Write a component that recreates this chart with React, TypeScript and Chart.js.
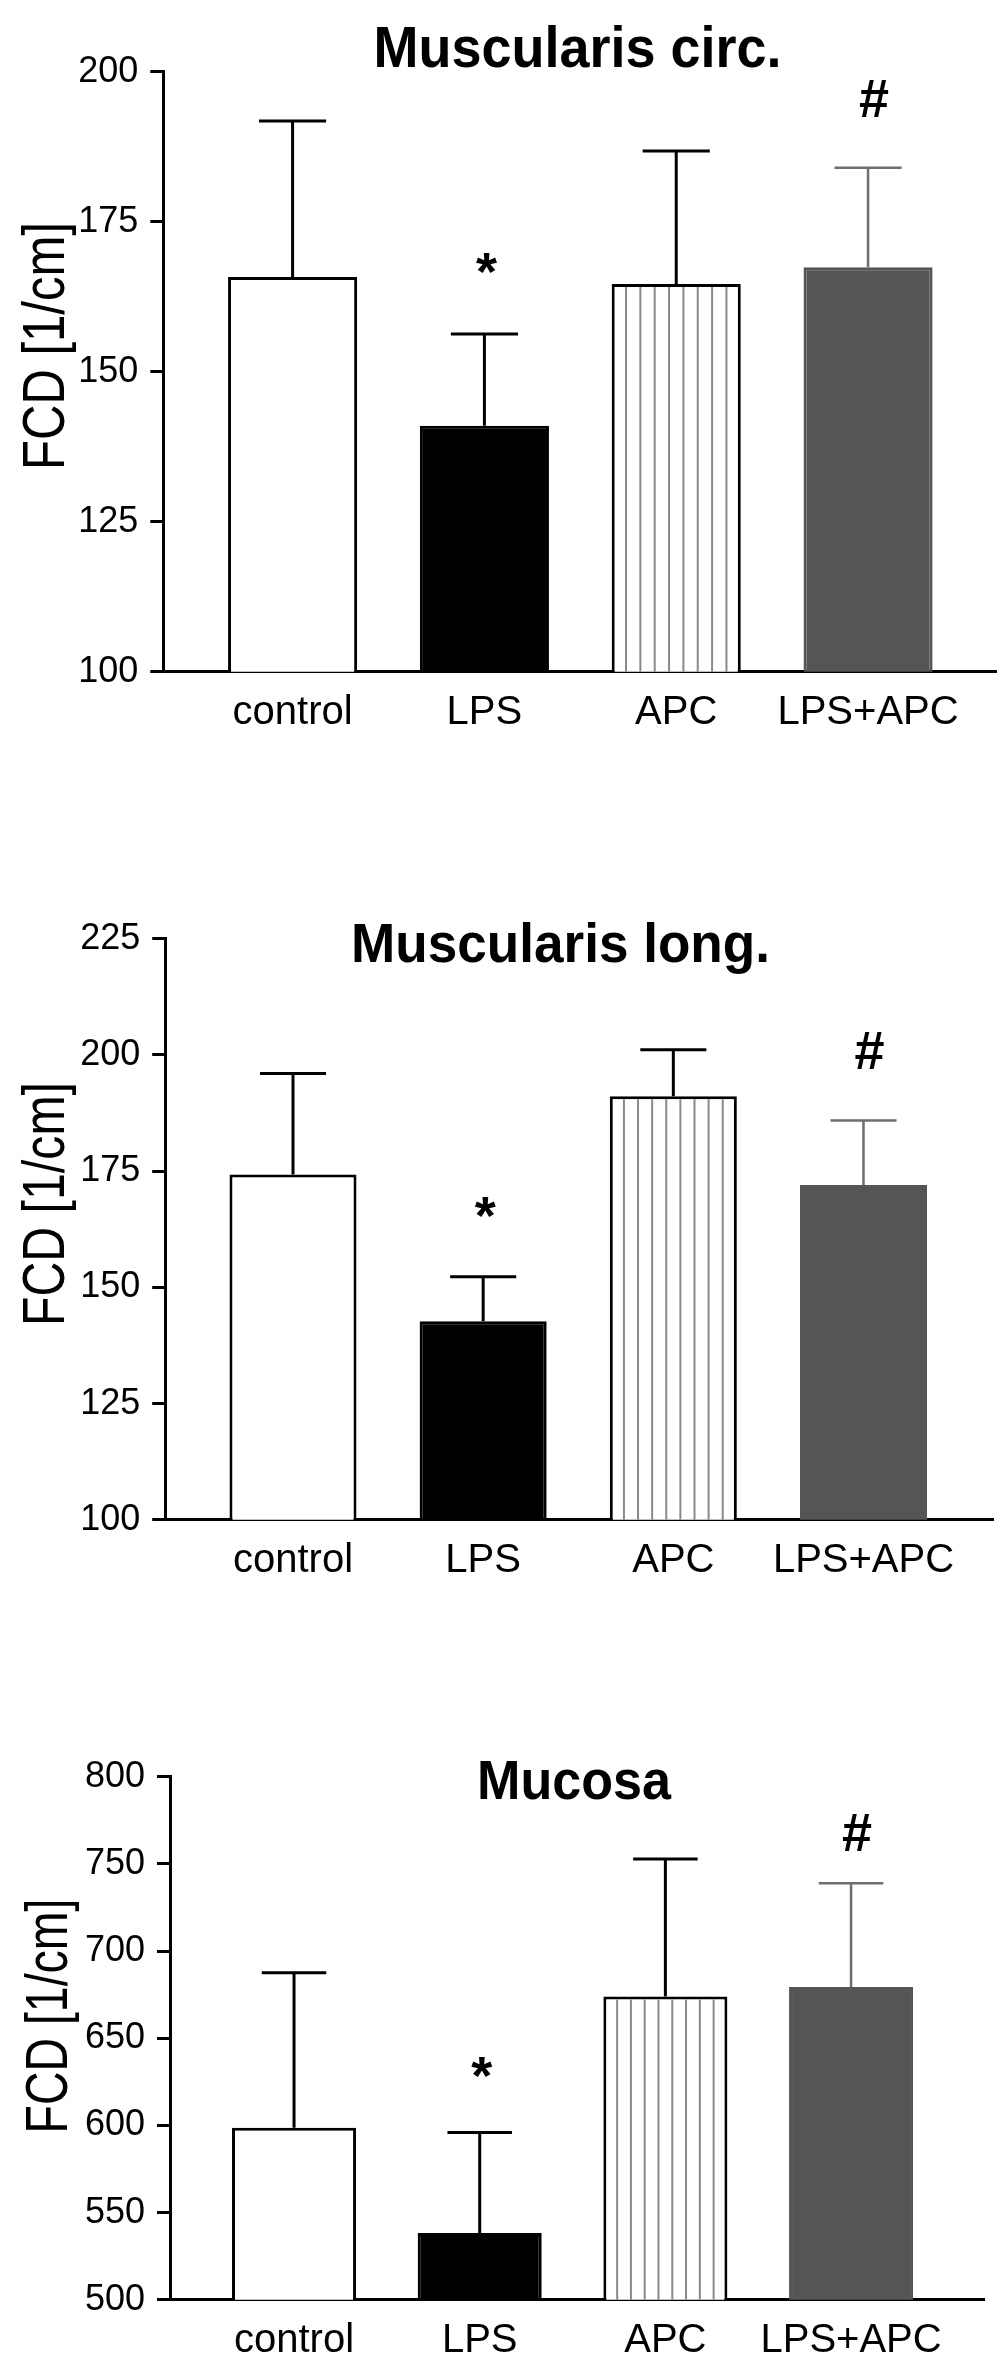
import React, { useEffect, useRef } from 'react';
import { Chart, registerables } from 'chart.js';

Chart.register(...registerables);

const FONT = "'Liberation Sans', Arial, Helvetica, sans-serif";

// ---- data ----
const categories = ['control', 'LPS', 'APC', 'LPS+APC'];

const circMeans = [165.8, 141.0, 164.6, 167.4];
const circUpper = [191.8, 156.3, 186.8, 184.0];
const circTicks = [100, 125, 150, 175, 200];
const circMarks = [null, 163.6, null, 192.4];

const longMeans = [174.3, 142.7, 191.1, 172.0];
const longUpper = [196.0, 152.3, 201.1, 185.9];
const longTicks = [100, 125, 150, 175, 200, 225];
const longMarks = [null, 161.5, null, 196.9];

const mucosaMeans = [598.6, 538.3, 674.0, 679.4];
const mucosaUpper = [687.6, 595.9, 752.8, 738.9];
const mucosaTicks = [500, 550, 600, 650, 700, 750, 800];
const mucosaMarks = [null, 618.3, null, 757.5];

const markSymbols = ['', '*', '', '#'];
const yAxisTitle = 'FCD [1/cm]';

// ---- styles ----
const barFill = ['#ffffff', '#000000', '#ffffff', '#555555'];
const barEdge = ['#000000', '#000000', '#000000', '#555555'];
const errColor = ['#000000', '#000000', '#000000', '#6e6e6e'];
const errWidth = [3, 3, 3, 2.5];
const hatched = [false, false, true, false];

type Spec = {
  title: string;
  means: number[];
  upper: number[];
  ticks: number[];
  marks: (number | null)[];
  top: number;
  height: number;
  area: { top: number; bottom: number; left: number; right: number };
  xMin: number;
  xMax: number;
  barPct: number;
  titleX: number;
  titleBase: number;
  titleSize: number;
  titleW: number;
  yTitleX: number;
  yTitleY: number;
  yTitleLen: number;
};

const panels: Spec[] = [
  {
    title: 'Muscularis circ.',
    means: circMeans, upper: circUpper, ticks: circTicks, marks: circMarks,
    top: 0, height: 780,
    area: { top: 71.7, bottom: 671.7, left: 163.3, right: 996 },
    xMin: -0.674, xMax: 3.667, barPct: 0.673,
    titleX: 577.5, titleBase: 66.7, titleSize: 58, titleW: 408,
    yTitleX: 64, yTitleY: 346, yTitleLen: 248,
  },
  {
    title: 'Muscularis long.',
    means: longMeans, upper: longUpper, ticks: longTicks, marks: longMarks,
    top: 780, height: 820,
    area: { top: 158.7, bottom: 739.8, left: 165.2, right: 993 },
    xMin: -0.672, xMax: 3.681, barPct: 0.668,
    titleX: 560.5, titleBase: 181.7, titleSize: 56, titleW: 419,
    yTitleX: 64, yTitleY: 424, yTitleLen: 244,
  },
  {
    title: 'Mucosa',
    means: mucosaMeans, upper: mucosaUpper, ticks: mucosaTicks, marks: mucosaMarks,
    top: 1600, height: 768,
    area: { top: 176.7, bottom: 699.8, left: 170, right: 984 },
    xMin: -0.668, xMax: 3.716, barPct: 0.668,
    titleX: 574, titleBase: 198.9, titleSize: 56, titleW: 194,
    yTitleX: 67, yTitleY: 416, yTitleLen: 235,
  },
];

function decorPlugin(spec: Spec) {
  return {
    id: 'decor',
    afterDatasetsDraw(chart: any) {
      const ctx = chart.ctx as CanvasRenderingContext2D;
      const meta = chart.getDatasetMeta(0);
      const ys = chart.scales.y;
      const floor = ys.getPixelForValue(spec.ticks[0]);
      ctx.save();
      meta.data.forEach((el: any, i: number) => {
        const { x, y, width } = el.getProps(['x', 'y', 'width'], true);
        if (hatched[i]) {
          ctx.strokeStyle = '#8a8a8a';
          ctx.lineWidth = 2;
          const left = x - width / 2;
          for (let k = 1; k < 9; k++) {
            const lx = left + (k * width) / 9;
            ctx.beginPath();
            ctx.moveTo(lx, y + 3);
            ctx.lineTo(lx, floor);
            ctx.stroke();
          }
        }
        const topPx = ys.getPixelForValue(spec.upper[i]);
        ctx.strokeStyle = errColor[i];
        ctx.lineWidth = errWidth[i];
        ctx.lineCap = 'butt';
        ctx.beginPath();
        ctx.moveTo(x, y);
        ctx.lineTo(x, topPx);
        const half = width * 0.26;
        ctx.moveTo(x - half, topPx);
        ctx.lineTo(x + half, topPx);
        ctx.stroke();
        const m = spec.marks[i];
        if (markSymbols[i] && m != null) {
          ctx.fillStyle = '#000';
          ctx.font = `bold 54px ${FONT}`;
          ctx.textAlign = 'center';
          ctx.textBaseline = 'alphabetic';
          const dx = markSymbols[i] === '#' ? 6 : 2;
          ctx.fillText(markSymbols[i], x + dx, ys.getPixelForValue(m));
        }
      });
      ctx.restore();
    },
    afterDraw(chart: any) {
      const ctx = chart.ctx as CanvasRenderingContext2D;
      // title
      ctx.save();
      ctx.fillStyle = '#000';
      ctx.font = `bold ${spec.titleSize}px ${FONT}`;
      ctx.textAlign = 'center';
      ctx.textBaseline = 'alphabetic';
      const tw = ctx.measureText(spec.title).width;
      ctx.translate(spec.titleX, spec.titleBase);
      ctx.scale(spec.titleW / tw, 1);
      ctx.fillText(spec.title, 0, 0);
      ctx.restore();
      // y-axis title
      ctx.save();
      ctx.fillStyle = '#000';
      ctx.font = `60px ${FONT}`;
      ctx.textAlign = 'center';
      ctx.textBaseline = 'alphabetic';
      const yw = ctx.measureText(yAxisTitle).width;
      ctx.translate(spec.yTitleX, spec.yTitleY);
      ctx.rotate(-Math.PI / 2);
      ctx.scale(spec.yTitleLen / yw, 1);
      ctx.fillText(yAxisTitle, 0, 0);
      ctx.restore();
    },
  };
}

function makeConfig(spec: Spec): any {
  const a = spec.area;
  return {
    type: 'bar',
    data: {
      datasets: [
        {
          data: spec.means.map((v, i) => ({ x: i, y: v })),
          backgroundColor: barFill,
          borderColor: barEdge,
          borderWidth: 3,
          borderSkipped: 'start',
          barPercentage: spec.barPct,
          categoryPercentage: 1,
        },
      ],
    },
    options: {
      responsive: false,
      animation: false,
      devicePixelRatio: 1,
      layout: { padding: { top: a.top, left: 0, right: 1004 - a.right, bottom: 0 } },
      plugins: {
        legend: { display: false },
        tooltip: { enabled: false },
        title: { display: false },
      },
      scales: {
        x: {
          type: 'linear',
          offset: false,
          min: spec.xMin,
          max: spec.xMax,
          z: 1,
          grid: { display: true, drawOnChartArea: false, drawTicks: false, offset: false },
          border: { display: true, color: '#000', width: 3 },
          afterBuildTicks: (s: any) => {
            s.ticks = categories.map((_, i) => ({ value: i }));
          },
          afterFit: (s: any) => {
            s.height = spec.height - a.bottom;
          },
          ticks: {
            callback: (v: any) => categories[v] ?? '',
            font: { family: FONT, size: 40 },
            color: '#000',
            padding: 17,
            autoSkip: false,
            maxRotation: 0,
            minRotation: 0,
          },
        },
        y: {
          type: 'linear',
          min: spec.ticks[0],
          max: spec.ticks[spec.ticks.length - 1],
          z: 1,
          grid: {
            display: true,
            drawOnChartArea: false,
            drawTicks: true,
            tickLength: 13,
            tickWidth: 3,
            tickColor: '#000',
          },
          border: { display: true, color: '#000', width: 3 },
          afterBuildTicks: (s: any) => {
            s.ticks = spec.ticks.map((v) => ({ value: v }));
          },
          afterFit: (s: any) => {
            s.width = a.left;
          },
          ticks: {
            font: { family: FONT, size: 36 },
            color: '#000',
            padding: 12,
          },
        },
      },
    },
    plugins: [decorPlugin(spec)],
  };
}

function Panel({ spec }: { spec: Spec }) {
  const ref = useRef<HTMLCanvasElement>(null);
  useEffect(() => {
    if (!ref.current) return;
    const chart = new Chart(ref.current, makeConfig(spec));
    return () => chart.destroy();
  }, [spec]);
  return (
    <canvas
      ref={ref}
      width={1004}
      height={spec.height}
      style={{ position: 'absolute', left: 0, top: spec.top, width: 1004, height: spec.height, display: 'block' }}
    />
  );
}

export default function App() {
  return (
    <div style={{ position: 'absolute', left: 0, top: 0, width: 1004, height: 2368, background: '#fff', overflow: 'hidden' }}>
      {panels.map((p) => (
        <Panel key={p.title} spec={p} />
      ))}
    </div>
  );
}
